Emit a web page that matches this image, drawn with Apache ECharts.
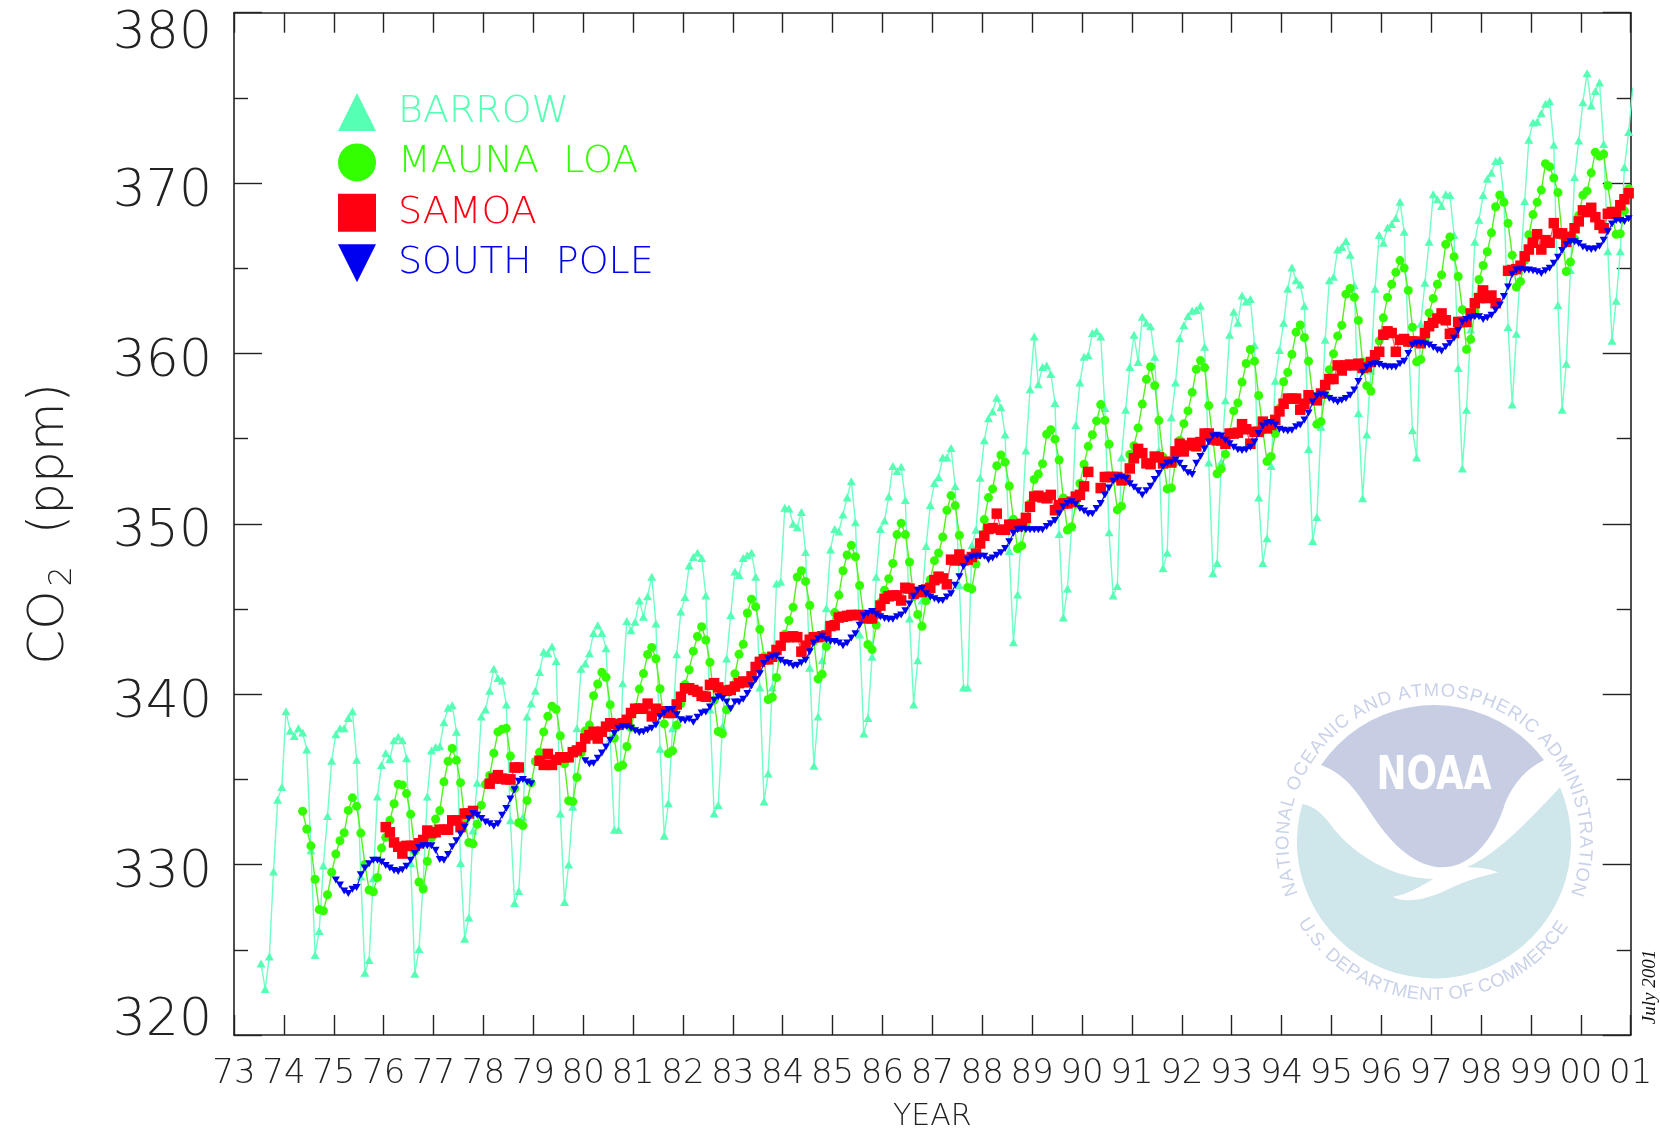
<!DOCTYPE html>
<html><head><meta charset="utf-8">
<style>html,body{margin:0;padding:0;background:#fff}#c{width:1660px;height:1128px}</style>
<script src="https://cdn.jsdelivr.net/npm/echarts@6/dist/echarts.min.js"></script>
</head><body><div id="c"></div>
<script>
const stations = ['BARROW','MAUNA LOA','SAMOA','SOUTH POLE'];
const colors = ['#55ffb4','#33ff00','#ff0010','#0000f0'];
const lineColors = ['#70ffc4','#55f020','#ff5060','#2020f0'];
const yearLabels = ['73','74','75','76','77','78','79','80','81','82','83','84','85','86','87','88','89','90','91','92','93','94','95','96','97','98','99','00','01'];

// Barrow: Jul 1973 onward, monthly
const barrow = [324.2,322.7,324.6,329.6,333.8,334.55,
339,337.85,337.55,338,337.75,336.75,330.85,324.7,326.1,329.95,332.85,336.1,
337.65,338,338,338.6,339,336.15,329.3,323.65,324.4,329.2,334,335.85,
336.55,336.2,337.3,337.5,337.3,336.25,330.1,323.6,325.05,328.9,334,336.7,
336.9,336.95,338.35,339.2,339.35,337.8,330.1,325.65,326.9,332,334.8,338.7,
339.1,340.2,341.5,340.95,340.8,339.4,332.6,327.75,328.45,332.8,338.7,339.45,
340.2,341.3,342.5,342.4,342.8,341.95,333,327.8,330,333.4,338,341.5,
341.8,342.4,343.6,344.05,343.6,342.7,337.4,332.05,332.05,340.65,344.3,343.75,
344.25,345.5,344.55,345.75,346.9,344.15,336.8,331.7,333.6,338,342.35,344.85,
345.7,347.55,348.05,348.3,348,345.8,339.1,333,333.5,338.1,342.1,344.65,
347.2,347,348,348.15,348.3,346.9,340.4,333.7,335.35,340.4,346.5,346.6,
350.95,350.9,350,349.8,350.7,348.35,341.55,335.8,338.7,342,345.05,348.5,
349.7,349.55,350.55,351.55,352.5,350.1,343.5,337.7,338.6,342.2,346.9,349.7,
350.2,351.6,353.4,353.1,353.35,351.4,344.45,339.4,342,345.5,348.7,351.1,
352.4,352.75,353.9,353.9,354.45,352.2,346.4,340.4,340.4,348.75,349.65,352.7,
354.9,356.2,356.6,357.4,356.85,355.25,348.4,343.05,345.85,349.8,354.3,357.9,
361,358.2,359.2,359.3,358.8,357.1,349.4,344.5,346.2,349.8,355.8,358.3,
359.8,359.9,361.2,361.3,361,356.8,349.5,345.8,346.35,353.9,356.7,359.2,
361.1,359.5,362.15,361.8,361.6,359.8,354.3,347.4,348.3,356.25,358.3,360.9,
361.65,362.2,362.5,362.55,362.8,360.4,353.6,347.1,347.7,353.65,357.25,361.1,
362.45,361.8,363.4,363.05,363.2,360.5,351.55,347.7,349.15,353.4,358.4,360.2,
361.8,363.8,365.05,364.3,364.05,362.8,354.4,349,350.4,355.7,360.8,364.3,
364.5,366.1,366.25,366.6,365.8,364,356.5,351.5,355.25,359,363.8,366.95,
366.5,367.4,367.6,367.95,368.9,367.15,360.8,355.5,353.9,361.75,364.15,366.55,
369.35,369.05,368.65,369.35,369.3,366.95,359.15,353.25,356.7,361.4,366.55,367.85,
369.3,370.25,370.6,371.3,371.35,369.1,361.55,357,361.15,365.1,368.95,372.55,
373.55,373.6,374.1,374.65,374.8,372.25,362.85,356.7,359.4,364.9,370.35,372.5,
374.75,376.45,374.55,375.4,375.9,372.3,366,360.75,363.1,366,370.95,373,
375.6];

// Mauna Loa: May 1974 onward, monthly
const maunaLoa = [333.13,332.09,331.1,329.14,327.36,327.29,328.23,329.55,
330.62,331.4,331.87,333.18,333.92,333.43,331.85,330.01,328.51,328.41,329.25,330.97,
331.6,332.6,333.57,334.72,334.68,334.17,332.96,330.8,328.98,328.57,330.2,331.58,
332.67,333.17,334.86,336.07,336.82,336.12,334.81,332.56,331.3,331.22,332.37,333.49,
334.71,335.23,336.54,337.79,337.95,338,336.37,334.47,332.46,332.29,333.76,334.8,
336.05,336.59,337.79,338.71,339.3,339.12,337.56,335.92,333.75,333.7,335.13,336.56,
337.84,338.19,339.91,340.6,341.29,341,339.39,337.43,335.72,335.84,336.93,338.04,
339.06,340.3,341.21,342.33,342.74,342.08,340.32,338.26,336.52,336.68,338.19,339.44,
340.57,341.44,342.53,343.39,343.96,343.18,341.88,339.65,337.81,337.69,339.09,340.32,
341.2,342.35,342.93,344.77,345.58,345.14,343.81,342.21,339.69,339.82,340.98,342.82,
343.52,344.33,345.11,346.88,347.25,346.62,345.22,343.11,340.9,341.18,342.8,344.04,
344.79,345.82,347.25,348.17,348.74,348.07,346.38,344.51,342.92,342.62,344.06,345.38,
346.11,346.78,347.68,349.37,350.03,349.37,347.76,345.73,344.68,343.99,345.48,346.72,
347.84,348.29,349.23,350.8,351.66,351.07,349.33,347.92,346.27,346.18,347.64,348.78,
350.25,351.54,352.05,353.41,354.04,353.62,352.22,350.27,348.55,348.72,349.91,351.18,
352.6,352.92,353.53,355.26,355.52,354.97,353.75,351.52,349.64,349.83,351.14,352.37,
353.5,354.55,355.23,356.04,357,356.07,354.67,352.76,350.82,351.04,352.69,354.07,
354.59,355.63,357.03,358.48,359.22,358.12,356.06,353.92,352.05,352.11,353.64,354.89,
355.88,356.63,357.72,359.07,359.58,359.17,356.94,354.92,352.94,353.23,354.09,355.33,
356.63,357.1,358.32,359.41,360.23,359.55,357.53,355.48,353.67,353.95,355.3,356.78,
358.34,358.89,359.95,361.25,361.67,360.94,359.55,357.49,355.84,356,357.59,359.05,
359.98,361.03,361.66,363.48,363.82,363.3,361.94,359.5,358.11,357.8,359.61,360.74,
362.09,363.29,364.06,364.76,365.45,365.01,363.7,361.54,359.51,359.65,360.8,362.38,
363.23,364.06,364.61,366.4,366.84,365.68,364.52,362.57,360.24,360.83,362.49,364.34,
365.16,365.97,367.08,368.61,369.3,368.87,367.64,365.77,363.9,364.23,365.46,366.97,
368.15,368.87,369.59,371.14,370.96,370.3,369.45,366.9,364.81,365.37,366.72,368.1,
369.29,369.54,370.6,371.81,371.58,371.7,369.86,368.13,367,367.03,368.37,369.67];

// Samoa: Jan 1976 onward, monthly (null = missing month)
const samoa = [332.2,331.9,331.3,331.05,330.65,331.1,331.1,331.1,331.25,331.45,332,331.85,
331.9,332.05,332.05,332.05,332.6,332.6,332.2,333,333,333.15,null,null,
null,334.75,335.05,335.25,335.05,335,335,335.7,335.7,null,null,null,
null,336.1,335.85,336.5,335.85,336.15,336.3,336.3,336.3,336.6,336.7,336.9,
337.4,337.6,337.8,337.4,337.8,338.1,338.3,338.25,338.2,338.3,338.5,338.9,
339.15,339.15,339.15,339.45,338.7,339.15,339,339,338.9,338.9,339.4,339.85,
340.35,340.35,340.25,340.15,339.9,339.85,340.55,340.65,340.4,340.2,340.2,340.25,
340.45,340.65,340.75,340.7,341.05,341.6,341.9,342.05,342.05,342.2,342.6,342.85,
343.35,343.35,343.4,343.35,342.5,342.85,343.2,343.35,343.35,343.4,343.45,344,
344.05,344.5,344.55,344.6,344.65,344.65,344.65,344.55,344.45,344.45,344.75,345.2,
345.6,345.75,345.8,345.8,345.5,346.25,346.2,345.9,346,346,346.15,346.25,
346.7,346.9,346.8,346.45,347.9,347.85,348.2,347.85,347.9,348.05,348.25,348.85,
349.3,349.7,349.75,350.6,349.65,349.65,349.95,349.95,349.85,350,350.35,351,
351.6,351.65,351.55,351.5,351.7,350.8,351.1,351.2,351.2,351.3,351.6,351.7,
352.2,353.05,null,null,352.1,352.75,352.75,352.75,352.75,352.55,352.6,353.25,
353.85,354.4,354.15,353.55,353.5,353.95,353.9,353.55,353.65,353.6,354.25,354.7,
354.25,354.6,354.75,354.55,354.8,355.3,355.3,354.95,354.9,354.9,354.7,355.3,
355.3,355.35,355.85,355.55,354.7,355.4,355.4,356,355.6,355.8,356.1,356.6,
357.05,357.35,357.35,357.35,356.7,357.05,357.55,357.35,357.25,357.65,358.15,358.5,
358.5,359.3,359,359.3,359.35,359.3,359.4,359.15,359.2,359.5,359.9,360.1,
361.1,361.3,361.2,360.1,360.8,360.85,360.7,360.7,360.7,360.6,361.2,361.6,
361.8,362.05,362.35,361.95,361.15,361.2,361.85,361.85,361.85,362.35,362.95,363.25,
363.7,363.25,363.4,362.95,null,null,364.85,364.9,364.95,365.15,365.7,366.1,
366.5,367,366.1,366.65,366.5,367.65,367.05,367.05,366.55,366.85,367.35,367.75,
368.4,368.3,368.55,368,367.55,367.35,368.2,368.3,368.3,368.7,369.05,369.4];

// South Pole: Jan 1975 onward, monthly (null = missing month)
const southPole = [329.1,328.8,328.45,328.3,328.55,328.65,329.4,329.8,330.05,330.25,330.25,330.15,
329.95,329.8,329.65,329.6,329.7,329.9,330.25,330.65,331,331.1,331.1,331.1,
330.85,330.3,330.25,330.6,331.05,331.4,331.8,332.2,332.7,333,332.9,332.7,
332.5,332.4,332.25,332.4,332.9,333.3,333.85,334.4,334.9,335,334.85,334.75,
null,null,null,null,null,null,null,null,null,null,null,null,
336.1,335.9,335.95,336.25,336.55,336.9,337.3,337.7,338,338.1,338.1,338,
337.85,337.75,337.8,337.9,338,338.2,338.7,338.9,339.1,339.1,338.8,338.5,
338.45,338.55,338.35,338.65,338.9,338.95,339.25,339.65,339.85,339.75,339.55,339.15,
339.55,339.55,339.7,340.05,340.5,340.85,341.2,341.8,342.1,342.2,342.25,342,
341.85,341.8,341.65,341.7,341.85,342,342.5,343,343.25,343.4,343.2,343.1,
343.1,343,342.85,343,343.3,343.55,344.05,344.6,344.75,344.85,344.7,344.55,
344.45,344.4,344.4,344.55,344.65,344.9,345.3,345.75,346.1,346.2,345.9,345.7,
345.6,345.5,345.5,345.7,345.9,346.4,346.9,347.5,347.9,348.05,348.1,348.1,
348.1,347.9,348,348.15,348.3,348.55,348.95,349.45,349.65,349.7,349.65,349.65,
349.65,349.65,349.65,349.85,350,350.2,350.6,351,351.2,351.3,351.15,350.9,
350.75,350.6,350.6,350.9,351.2,351.7,352.1,352.5,352.7,352.75,352.65,352.35,
352.15,351.95,351.7,351.95,352.2,352.6,352.95,353.35,353.55,353.6,353.75,353.55,
353.25,353,352.9,353.55,353.95,354.4,354.8,355.15,355.2,355.15,354.9,354.7,
354.5,354.35,354.3,354.35,354.5,354.8,355.3,355.75,355.9,355.95,355.8,355.55,
355.5,355.45,355.5,355.7,355.8,356.1,356.5,357.15,357.5,357.6,357.55,357.35,
357.25,357.15,357.25,357.35,357.55,357.85,358.35,358.9,359.2,359.35,359.4,359.35,
359.25,359.2,359.2,359.2,359.4,359.55,360,360.5,360.6,360.6,360.55,360.5,
360.35,360.2,360.15,360.4,360.6,360.9,361.35,361.85,362,362.1,362.15,362.15,
362,362.1,362.25,362.55,362.85,363.35,363.9,364.65,364.9,364.95,364.9,364.9,
364.85,364.8,364.7,364.85,365,365.3,365.65,366.05,366.4,366.55,366.55,366.45,
366.25,366.15,366.1,366.15,366.3,366.65,367.15,367.6,367.8,367.8,367.75,367.9];

function monthly(values, year, month){
  return values.map((v,i)=>[year+(month+i+0.5)/12, v]);
}
const TRI_UP='triangle', CIRCLE='circle', SQUARE='rect', TRI_DOWN='path://M0 0L10 0L5 10Z';
const seriesOf=(idx,data,symbol,size,lw)=>({
  name:stations[idx],type:'line',data,symbol,symbolSize:size,connectNulls:false,clip:true,
  showSymbol:true,showAllSymbol:true,animation:false,z:2+idx,
  lineStyle:{color:lineColors[idx],width:lw},
  itemStyle:{color:colors[idx],borderWidth:0},
  emphasis:{disabled:true}
});
const DIGIT_FONT='"DejaVu Sans ExtraLight","DejaVu Sans",sans-serif';
const INK='#222';

// NOAA seal drawn behind the data
echarts.graphic.registerShape('sealUpper',echarts.graphic.extendPath('M243 315 A411 411 0 0 1 912 300 C860 325 820 370 795 430 C770 520 700 622 610 622 C530 622 460 560 400 470 C350 395 320 345 243 315 Z',{}));
echarts.graphic.registerShape('sealLower',echarts.graphic.extendPath('M187 432 C230 440 255 470 280 505 C340 580 450 655 580 657 C540 680 500 705 458 710 C490 730 560 720 620 690 C670 665 720 650 775 637 C745 625 710 622 680 622 C760 590 850 500 960 382 A411 411 0 1 1 187 432 Z',{}));
const measure=document.createElement('canvas').getContext('2d');
function ringText(str,cx,cy,r,a0,a1,bottom,fill,font){
  measure.font=font;
  const widths=[...str].map(c=>measure.measureText(c).width);
  const total=widths.reduce((a,b)=>a+b,0);
  let acc=0;const out=[];
  [...str].forEach((c,i)=>{
    const t=(acc+widths[i]/2)/total;acc+=widths[i];
    const a=(a0+(a1-a0)*t)*Math.PI/180;
    out.push({type:'text',silent:true,z:1,
      x:cx+r*Math.sin(a),y:bottom?cy+r*Math.cos(a):cy-r*Math.cos(a),
      rotation:bottom?a:-a,
      style:{text:c,fill,font,textAlign:'center',textVerticalAlign:'middle'}});
  });
  return out;
}
const sealFont='400 18.5px "Liberation Sans",sans-serif';
const graphic=[
 {type:'sealUpper',silent:true,z:0,x:1240,y:660,scaleX:1/3,scaleY:1/3,shape:{},style:{fill:'#c7cee4'}},
 {type:'sealLower',silent:true,z:0,x:1240,y:660,scaleX:1/3,scaleY:1/3,shape:{},style:{fill:'#cfe6ea'}},
 {type:'text',silent:true,z:1,x:1434,y:777,scaleX:.78,originX:0,
  style:{text:'NOAA',fill:'#fff',font:'700 46px "DejaVu Sans",sans-serif',textAlign:'center',textVerticalAlign:'middle'}},
 ...ringText('NATIONAL OCEANIC AND ATMOSPHERIC ADMINISTRATION',1434.3,842,151,-111,111,false,'#c9d2e8',sealFont),
 ...ringText('U.S. DEPARTMENT OF COMMERCE',1434.3,842,153,-59.5,58,true,'#c9d2e8',sealFont),
 {type:'text',silent:true,z:5,x:1650,y:987,rotation:Math.PI/2,
  style:{text:'July 2001',fill:'#111',font:'italic 400 19px "Liberation Serif",serif',textAlign:'center',textVerticalAlign:'middle'}}
];

const YTICK={fontFamily:DIGIT_FONT,fontWeight:200,fontSize:52,color:INK,lineHeight:38};
const chart=echarts.init(document.getElementById('c'),null,{renderer:'canvas'});
chart.setOption({
  animation:false,backgroundColor:'#fff',
  grid:{left:234,right:29.3,top:12.7,bottom:93,containLabel:false,outerBoundsMode:'none'},
  legend:{show:true,orient:'vertical',left:333,top:88,itemWidth:38,itemHeight:38,itemGap:12.4,selectedMode:false,
    formatter:n=>n.replace(' ','  '),
    data:stations.map((n,i)=>({name:n,icon:[TRI_UP,CIRCLE,SQUARE,TRI_DOWN][i],
      textStyle:{color:colors[i],fontFamily:DIGIT_FONT,fontWeight:200,fontSize:38,padding:[0,0,0,17]}}))},
  xAxis:[{type:'value',min:1973,max:2001,interval:1,position:'bottom',
    name:'YEAR',nameLocation:'middle',nameGap:67,
    nameTextStyle:{fontFamily:DIGIT_FONT,fontWeight:200,fontSize:30,color:INK},
    axisLine:{lineStyle:{color:INK,width:1.6}},
    axisTick:{inside:true,length:20,lineStyle:{color:INK,width:1.4}},
    splitLine:{show:false},
    axisLabel:{margin:22,fontFamily:DIGIT_FONT,fontWeight:200,fontSize:34,color:INK,
      formatter:v=>yearLabels[Math.round(v)-1973]}},
   {type:'value',min:1973,max:2001,interval:1,position:'top',
    axisLine:{lineStyle:{color:INK,width:1.6}},
    axisTick:{inside:true,length:20,lineStyle:{color:INK,width:1.4}},
    axisLabel:{show:false},splitLine:{show:false}}],
  yAxis:[{type:'value',min:320,max:380,interval:10,position:'left',
    name:'{a|CO}{b|2}{a|  (ppm)}',nameLocation:'middle',nameRotate:90,nameGap:155,
    nameTextStyle:{rich:{a:{fontFamily:DIGIT_FONT,fontWeight:200,fontSize:50,color:INK},
      b:{fontFamily:DIGIT_FONT,fontWeight:200,fontSize:32,color:INK,padding:[26,0,0,4]}}},
    axisLine:{show:true,lineStyle:{color:INK,width:1.6}},
    axisTick:{show:true,inside:true,length:28,lineStyle:{color:INK,width:1.4}},
    minorTick:{show:true,splitNumber:2,length:14,lineStyle:{color:INK,width:1.4}},
    splitLine:{show:false},
    axisLabel:{margin:22,verticalAlignMinLabel:'bottom',verticalAlignMaxLabel:'top',
      formatter:v=>v===320?`{b|${v}}`:v===380?`{t|${v}}`:`{n|${v}}`,
      rich:{b:{...YTICK,lineHeight:28},t:{...YTICK,padding:[5,0,0,0]},n:{...YTICK,padding:[18,0,0,0]}}}},
   {type:'value',min:320,max:380,interval:10,position:'right',
    axisLine:{show:true,lineStyle:{color:INK,width:1.6}},
    axisTick:{show:true,inside:true,length:28,lineStyle:{color:INK,width:1.4}},
    minorTick:{show:true,splitNumber:2,length:14,lineStyle:{color:INK,width:1.4}},
    axisLabel:{show:false},splitLine:{show:false}}],
  series:[
    seriesOf(0,monthly(barrow,1973,6),TRI_UP,[9,8],1.4),
    seriesOf(1,monthly(maunaLoa,1974,4),CIRCLE,9,1.4),
    seriesOf(2,monthly(samoa,1976,0),SQUARE,10.5,1.2),
    seriesOf(3,monthly(southPole,1975,0),TRI_DOWN,[8,7],1.3)
  ],
  graphic:{elements:graphic}
});
</script></body></html>
